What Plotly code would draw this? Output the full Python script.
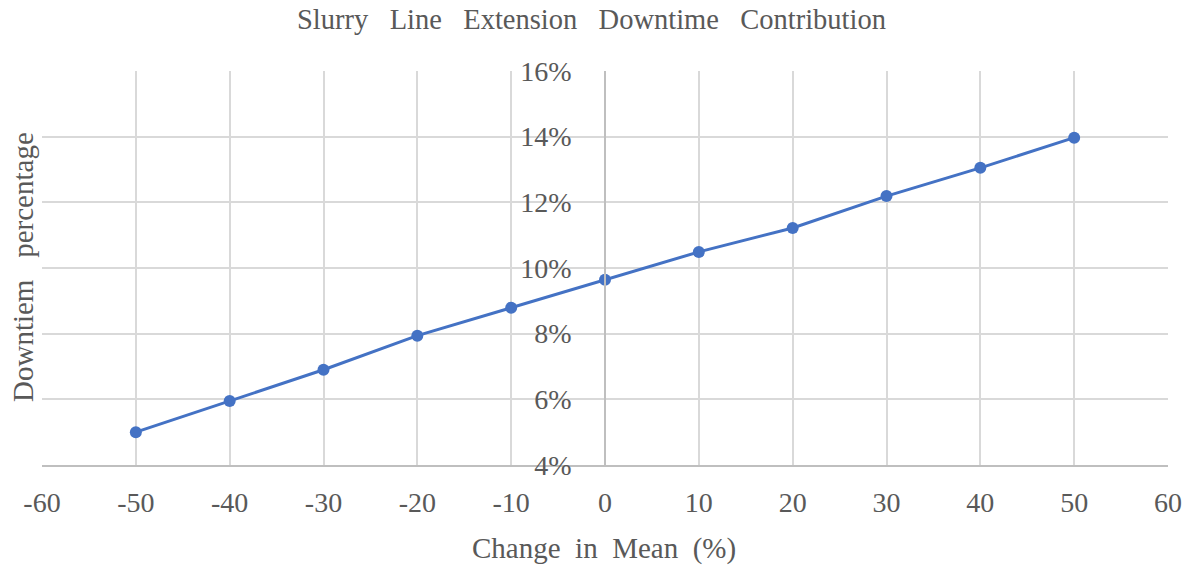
import plotly.graph_objects as go

# Change in mean (%) and resulting downtime share
change_in_mean = [-50, -40, -30, -20, -10, 0, 10, 20, 30, 40, 50]
downtime_pct = [0.0500, 0.0595, 0.0690, 0.0794, 0.0879, 0.0964, 0.1049, 0.1122, 0.1219, 0.1305, 0.1397]

# axis ticks (hyphen-minus labels on the x axis)
x_tick_vals = [-60, -50, -40, -30, -20, -10, 0, 10, 20, 30, 40, 50, 60]
x_tick_text = ["-60", "-50", "-40", "-30", "-20", "-10", "0", "10", "20", "30", "40", "50", "60"]
y_tick_vals = [0.04, 0.06, 0.08, 0.10, 0.12, 0.14, 0.16]
y_tick_text = ["4%", "6%", "8%", "10%", "12%", "14%", "16%"]

title_words = ["Slurry", "Line", "Extension", "Downtime", "Contribution"]
x_title_words = ["Change", "in", "Mean", "(%)"]
y_title_words = ["Downtiem", "percentage"]

FONT = "Liberation Serif, Times New Roman, serif"
TEXT_GRAY = "#595959"
GRID = "#d9d9d9"
AXIS = "#bfbfbf"
BLUE = "#4472C4"

W, H = 1193, 569
ML, MR, MT, MB = 42, 25, 71, 104
plot_w = W - ML - MR
plot_h = H - MT - MB


def spaced(words, n):
    return ("\u00a0" * n).join(words)


fig = go.Figure()
fig.add_trace(go.Scatter(
    x=change_in_mean, y=downtime_pct,
    mode="lines+markers",
    line=dict(color=BLUE, width=3),
    marker=dict(color=BLUE, size=12),
    showlegend=False,
))

fig.update_layout(
    width=W, height=H,
    margin=dict(l=ML, r=MR, t=MT, b=MB),
    paper_bgcolor="white", plot_bgcolor="white",
    font=dict(family=FONT, color=TEXT_GRAY, size=28),
    xaxis=dict(
        range=[-60, 60],
        tickmode="array", tickvals=x_tick_vals, ticktext=x_tick_text,
        showgrid=True, gridcolor=GRID, gridwidth=1.5,
        showline=True, linecolor=AXIS, linewidth=1.5,
        zeroline=False, ticks="",
        tickfont=dict(size=28, color=TEXT_GRAY),
        ticklabelstandoff=12,
    ),
    yaxis=dict(
        range=[0.04, 0.16],
        tickmode="array", tickvals=y_tick_vals, ticktext=y_tick_text,
        anchor="free", position=0.5,
        showgrid=True, gridcolor=GRID, gridwidth=1.5,
        showline=True, linecolor=AXIS, linewidth=1.5,
        zeroline=False, ticks="",
        tickfont=dict(size=28, color=TEXT_GRAY),
        ticklabelstandoff=27,
    ),
    annotations=[
        dict(text=spaced(title_words, 3), xref="paper", yref="paper",
             x=(591 - ML) / plot_w, xanchor="center",
             y=1 + (MT - 20) / plot_h, yanchor="middle",
             showarrow=False, font=dict(size=28.5, color=TEXT_GRAY)),
        dict(text=spaced(x_title_words, 2), xref="paper", yref="paper",
             x=(604 - ML) / plot_w, xanchor="center",
             y=-(548 - (H - MB)) / plot_h, yanchor="middle",
             showarrow=False, font=dict(size=29, color=TEXT_GRAY)),
        dict(text=spaced(y_title_words, 3), textangle=-90, xref="paper", yref="paper",
             x=-(ML - 23) / plot_w, xanchor="center",
             y=((H - MB) - 267) / plot_h, yanchor="middle",
             showarrow=False, font=dict(size=29, color=TEXT_GRAY)),
    ],
)

fig.write_html("out.html")
